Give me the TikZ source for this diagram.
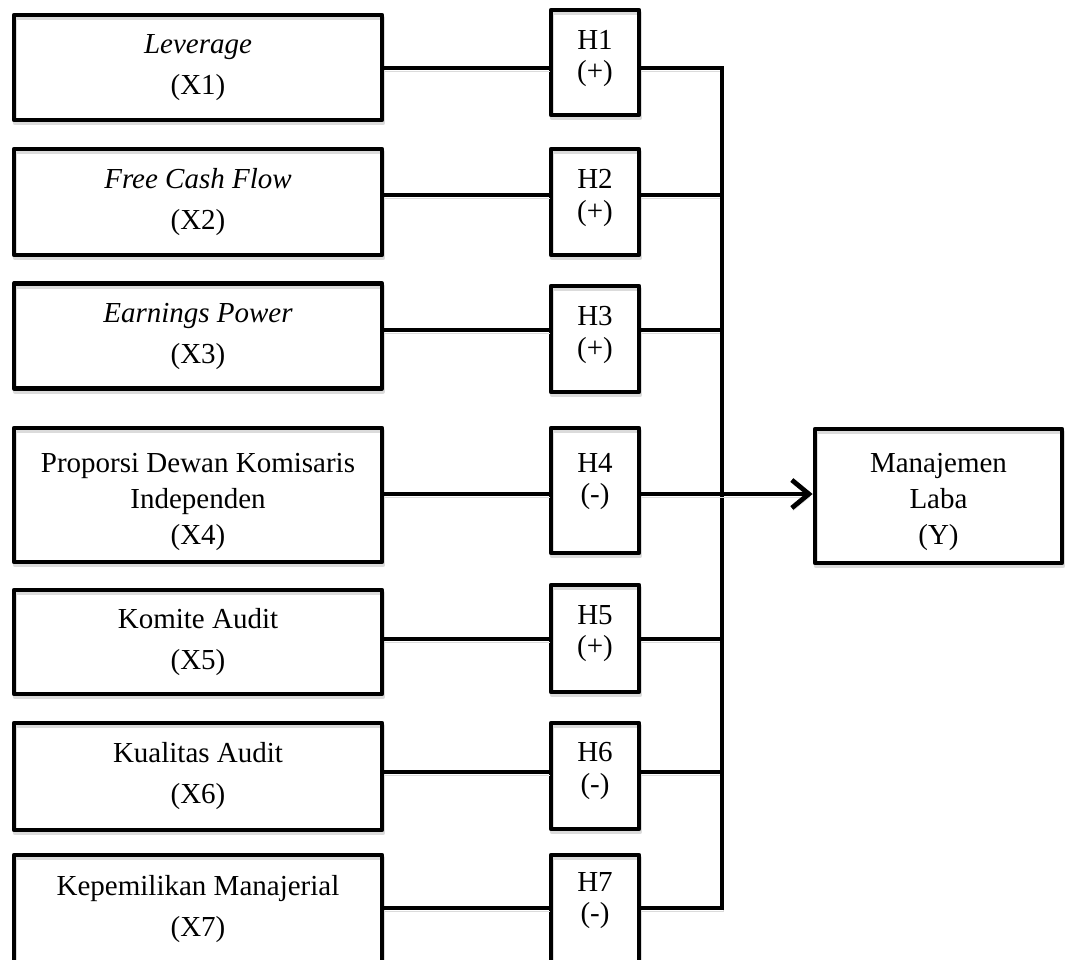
\documentclass[tikz,border=0pt]{standalone}
\usepackage{fontspec}
\setmainfont{Liberation Serif}
\usetikzlibrary{arrows.meta,calc}
\begin{document}
\begin{tikzpicture}[x=1pt,y=-1pt,
  shadowed/.style={preaction={draw=black!14, transform canvas={xshift=1pt,yshift=-3pt}}},
  box/.style={draw, line width=4.8pt, line join=round, inner sep=0pt, align=center,
    minimum width=368pt, font=\fontsize{29}{41}\selectfont, shadowed},
  threeline/.style={font=\fontsize{29}{36}\selectfont},
  hbox/.style={draw, line width=4.8pt, line join=round, inner sep=0pt, minimum width=88pt, shadowed},
  htxt/.style={align=center, inner sep=0pt, font=\fontsize{29}{31.5}\selectfont},
  conn/.style={line width=4.8pt, line cap=butt, shadowed}]
\useasboundingbox (0,0) rectangle (1072,960);

% left variable boxes
\node[box, minimum height=105pt] (b1) at (198,67.5) {\textit{Leverage}\\(X1)};
\node[box, minimum height=106pt] (b2) at (198,202) {\textit{Free Cash Flow}\\(X2)};
\node[box, minimum height=105pt] (b3) at (198,336) {\textit{Earnings Power}\\(X3)};
\node[box, minimum height=134pt,
  label={[name=b4t, align=center, inner sep=0pt, threeline, yshift=-7pt]center:Proporsi Dewan Komisaris\\Independen\\(X4)}]
  (b4) at (198,495) {};
\node[box, minimum height=104pt] (b5) at (198,642) {Komite Audit\\(X5)};
\node[box, minimum height=107pt] (b6) at (198,776.5) {Kualitas Audit\\(X6)};
\node[box, minimum height=109pt] (b7) at (198,909.5) {Kepemilikan Manajerial\\(X7)};

% hypothesis boxes
\node[hbox, minimum height=105pt, label={[name=h1t, htxt, yshift=4pt]center:H1\\(+)}] (h1) at (595,62.5) {};
\node[hbox, minimum height=106pt, label={[name=h2t, htxt, yshift=4pt]center:H2\\(+)}] (h2) at (595,202) {};
\node[hbox, minimum height=106pt, label={[name=h3t, htxt, yshift=4pt]center:H3\\(+)}] (h3) at (595,339) {};
\node[hbox, minimum height=125pt, label={[name=h4t, htxt, yshift=9pt]center:H4\\(-)}] (h4) at (595,490.5) {};
\node[hbox, minimum height=107pt, label={[name=h5t, htxt, yshift=5pt]center:H5\\(+)}] (h5) at (595,638.5) {};
\node[hbox, minimum height=106pt, label={[name=h6t, htxt, yshift=5pt]center:H6\\(-)}] (h6) at (595,776) {};
\node[hbox, minimum height=109pt, label={[name=h7t, htxt, yshift=9pt]center:H7\\(-)}] (h7) at (595,909.5) {};

% dependent variable
\node[box, minimum width=247pt, minimum height=134pt,
  label={[name=ybt, align=center, inner sep=0pt, threeline, yshift=-6pt]center:Manajemen\\Laba\\(Y)}]
  (yb) at (938.5,496) {};

% row levels and bus
\coordinate (r1) at (0,68);
\coordinate (r2) at (0,195);
\coordinate (r3) at (0,330);
\coordinate (r4) at (0,494);
\coordinate (r5) at (0,639);
\coordinate (r6) at (0,772);
\coordinate (r7) at (0,908);
\coordinate (bus) at (722,0);

% connectors left -> hypothesis
\foreach \i in {1,...,7}{
  \draw[conn] (b\i.east |- r\i) -- (h\i.west |- r\i);
}
% hypothesis -> bus
\foreach \i in {2,3,5,6}{
  \draw[conn] (h\i.east |- r\i) -- (bus |- r\i);
}
\draw[conn, line join=miter] (h1.east |- r1) -- (bus |- r1) -- (bus |- r7) -- (h7.east |- r7);
% arrow to Y
\draw[conn, -{Straight Barb[length=17pt,width=28pt,line width=4.8pt]}] (h4.east |- r4) -- (yb.west |- r4);
\end{tikzpicture}
\end{document}
